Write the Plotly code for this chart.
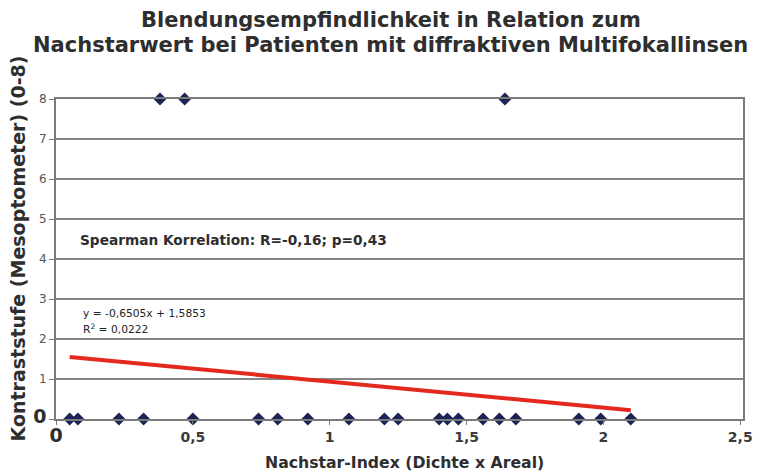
import plotly.graph_objects as go

# Nachstar-Index (Dichte x Areal) and Kontraststufe (Mesoptometer) per eye
nachstar_index = [0.05, 0.08, 0.23, 0.32, 0.50, 0.74, 0.81, 0.92, 1.07, 1.20,
                  1.25, 1.40, 1.43, 1.47, 1.56, 1.62, 1.68, 1.91, 1.99, 2.10,
                  0.38, 0.47, 1.64]
kontraststufe = [0, 0, 0, 0, 0, 0, 0, 0, 0, 0,
                 0, 0, 0, 0, 0, 0, 0, 0, 0, 0,
                 8, 8, 8]

# linear trend line y = slope * x + intercept
slope = -0.6505
intercept = 1.5853
r_squared = "0,0222"
spearman_text = "Spearman Korrelation: R=-0,16; p=0,43"

x_tick_vals = [0, 0.5, 1, 1.5, 2, 2.5]
x_tick_text = ["0", "0,5", "1", "1,5", "2", "2,5"]
y_tick_vals = [0, 1, 2, 3, 4, 5, 6, 7, 8]
y_tick_text = ["0", "1", "2", "3", "4", "5", "6", "7", "8"]

title_lines = ["Blendungsempfindlichkeit in Relation zum",
               "Nachstarwert bei Patienten mit diffraktiven Multifokallinsen"]
x_title = "Nachstar-Index (Dichte x Areal)"
y_title = "Kontraststufe (Mesoptometer) (0-8)"

W, H = 765, 472
L, R, T, B = 56, 13, 99, 53
PW, PH = W - L - R, H - T - B


def px_to_paper(px, py):
    return (px - L) / PW, (H - B - py) / PH


FONT = "DejaVu Sans, Liberation Sans, sans-serif"
TXT = "#2e2e2e"
big0 = f"<span style='font-size:19px;font-weight:bold;color:{TXT}'>0</span>"

fig = go.Figure()

x_lo, x_hi = min(nachstar_index), max(nachstar_index)
fig.add_trace(go.Scatter(
    x=[x_lo, x_hi],
    y=[slope * x_lo + intercept, slope * x_hi + intercept],
    mode="lines",
    line=dict(color="#e3281d", width=4),
    hoverinfo="skip",
))

fig.add_trace(go.Scatter(
    x=nachstar_index,
    y=kontraststufe,
    mode="markers",
    marker=dict(symbol="diamond", size=10, color="#1c2357"),
    cliponaxis=False,
))


def label(text, px, py, size, xanchor="center", angle=0, color=TXT):
    x, y = px_to_paper(px, py)
    return dict(text=text, x=x, y=y, xref="paper", yref="paper",
                xanchor=xanchor, yanchor="middle", textangle=angle,
                showarrow=False, font=dict(size=size, color=color, family=FONT))


eq = f"y = {slope:.4f}x + {intercept:.4f}".replace(".", ",")
ann = [
    label(f"<b>{title_lines[0]}</b>", 395, 20, 21),
    label(f"<b>{title_lines[1]}</b>", 395, 45, 21),
    label(f"<b>{x_title}</b>", 409, 462, 15.7),
    label(f"<b>{y_title}</b>", 18, 248, 19, angle=-90),
    label(f"<b>{spearman_text}</b>", 78, 240, 13.7, xanchor="left"),
    label(eq, 81, 313, 10.7, xanchor="left", color="#222"),
    label(f"R<sup>2</sup> = {r_squared}", 81, 329, 10.7, xanchor="left", color="#222"),
]

fig.update_layout(
    width=W, height=H,
    margin=dict(l=L, r=R, t=T, b=B),
    paper_bgcolor="white", plot_bgcolor="white",
    showlegend=False,
    font=dict(family=FONT, color=TXT),
    annotations=ann,
    xaxis=dict(
        range=[0, 2.51], tickvals=x_tick_vals,
        ticktext=[big0 if t == "0" else f"<b>{t}</b>" for t in x_tick_text],
        tickfont=dict(size=14, color="#3a3a3a", family=FONT),
        showgrid=False, zeroline=False,
        showline=True, linecolor="#7a7a7a", linewidth=2, mirror=True,
        ticks="outside", ticklen=4, tickcolor="#7a7a7a",
    ),
    yaxis=dict(
        range=[0, 8], tickvals=y_tick_vals,
        ticktext=[big0 if t == "0" else t for t in y_tick_text],
        tickfont=dict(size=12, color="#555", family=FONT),
        showgrid=True, gridcolor="#858585", gridwidth=2, zeroline=False,
        showline=True, linecolor="#7a7a7a", linewidth=2, mirror=True,
        ticks="outside", ticklen=5, tickcolor="#7a7a7a",
    ),
)

fig.write_html("out.html")
